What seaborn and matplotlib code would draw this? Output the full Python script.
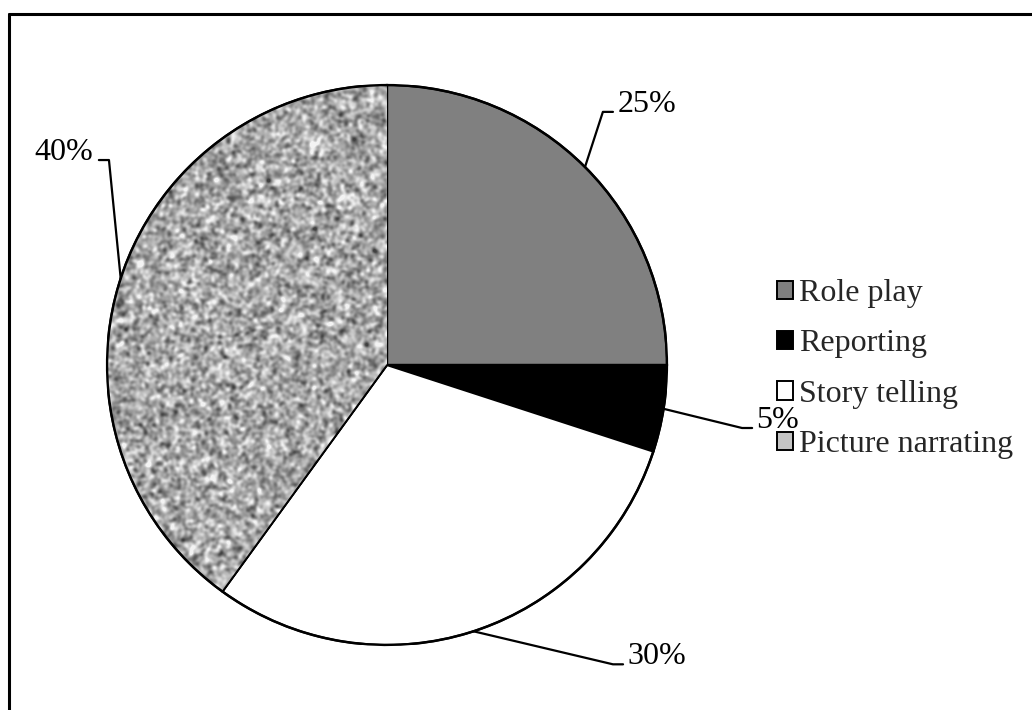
import numpy as np
import matplotlib
matplotlib.use("Agg")
import matplotlib.pyplot as plt
from matplotlib.patches import Patch
from matplotlib.lines import Line2D
import seaborn as sns

# Share of each speaking activity
activities = ["Role play", "Reporting", "Story telling", "Picture narrating"]
shares = [25, 5, 30, 40]
pct_labels = ["25%", "5%", "30%", "40%"]

sns.set_theme(style="white")
plt.rcParams["font.family"] = ["Liberation Serif", "DejaVu Serif"]

W, H, DPI = 1032, 710, 100
fig = plt.figure(figsize=(W / DPI, H / DPI), dpi=DPI)
fig.patch.set_facecolor("white")

# pie area: centre at (387, 365) px, radius 280 px
cx, cy, r = 387, 365, 280
ax = fig.add_axes([(cx - r) / W, (H - cy - r) / H, 2 * r / W, 2 * r / H])

fills = ["#808080", "#000000", "#ffffff", "#a8a8a8"]
wedges, _ = ax.pie(shares, colors=fills, startangle=90, counterclock=False,
                   radius=1.0, wedgeprops=dict(edgecolor="black", linewidth=1.6))
ax.set_xlim(-1, 1)
ax.set_ylim(-1, 1)
ax.set_aspect("equal")
ax.axis("off")

# speckled fill for the "Picture narrating" slice
rng = np.random.default_rng(7)
n = 2 * r
noise = rng.normal(size=(n, n))
k = np.exp(-0.5 * (np.arange(-7, 8) / 1.7) ** 2)
k /= k.sum()
noise = np.apply_along_axis(lambda v: np.convolve(v, k, mode="same"), 0, noise)
noise = np.apply_along_axis(lambda v: np.convolve(v, k, mode="same"), 1, noise)
noise = (noise - noise.mean()) / noise.std()
tex = np.clip(0.66 + 0.12 * noise, 0.25, 0.95)
img = ax.imshow(tex, cmap="gray", vmin=0, vmax=1, extent=(-1, 1, -1, 1),
                interpolation="bilinear", zorder=1.5)
img.set_clip_path(wedges[3])
wedges[3].set_zorder(1)
outline = plt.Circle((0, 0), 1.0, fill=False, edgecolor="black", linewidth=1.8, zorder=3)
ax.add_patch(outline)
ax.plot([0, np.cos(np.deg2rad(-126))], [0, np.sin(np.deg2rad(-126))],
        color="black", linewidth=1.2, zorder=3)

# leader lines from the middle of each slice to its percentage label
elbows = [(0.771, 0.904), (1.268, -0.225), (0.807, -1.069), (-0.993, 0.732)]
ends = [(0.807, 0.904), (1.304, -0.225), (0.843, -1.069), (-1.029, 0.732)]
text_pos = [(0.825, 0.904, "left"), (1.318, -0.225, "left"),
            (0.86, -1.069, "left"), (-1.05, 0.732, "right")]
theta = 90.0
for val, lab, el, en, tp in zip(shares, pct_labels, elbows, ends, text_pos):
    mid = np.deg2rad(theta - 360 * val / 100 / 2)
    theta -= 360 * val / 100
    sx, sy = np.cos(mid), np.sin(mid)
    ax.plot([sx, el[0], en[0]], [sy, el[1], en[1]], color="black",
            linewidth=1.6, clip_on=False, zorder=4)
    ax.text(tp[0], tp[1], lab, ha=tp[2], va="baseline", fontsize=23,
            color="black", clip_on=False)

handles = [Patch(facecolor=c, edgecolor="black", linewidth=1.4) for c in
           ["#808080", "#000000", "#ffffff", "#c4c4c4"]]
fig.legend(handles, activities, loc="upper left",
           bbox_to_anchor=(777 / W, 1 - 279 / H), frameon=False,
           fontsize=23, handlelength=0.5, handleheight=0.5,
           handletextpad=0.2, labelspacing=0.67, borderpad=0, borderaxespad=0)

# frame lines along the top and left
fig.add_artist(Line2D([9 / W, 1], [1 - 13.5 / H] * 2, color="black", linewidth=2.2,
                      transform=fig.transFigure))
fig.add_artist(Line2D([9 / W] * 2, [0, 1 - 13.5 / H], color="black", linewidth=2.2,
                      transform=fig.transFigure))

fig.savefig("out.png", dpi=DPI)
